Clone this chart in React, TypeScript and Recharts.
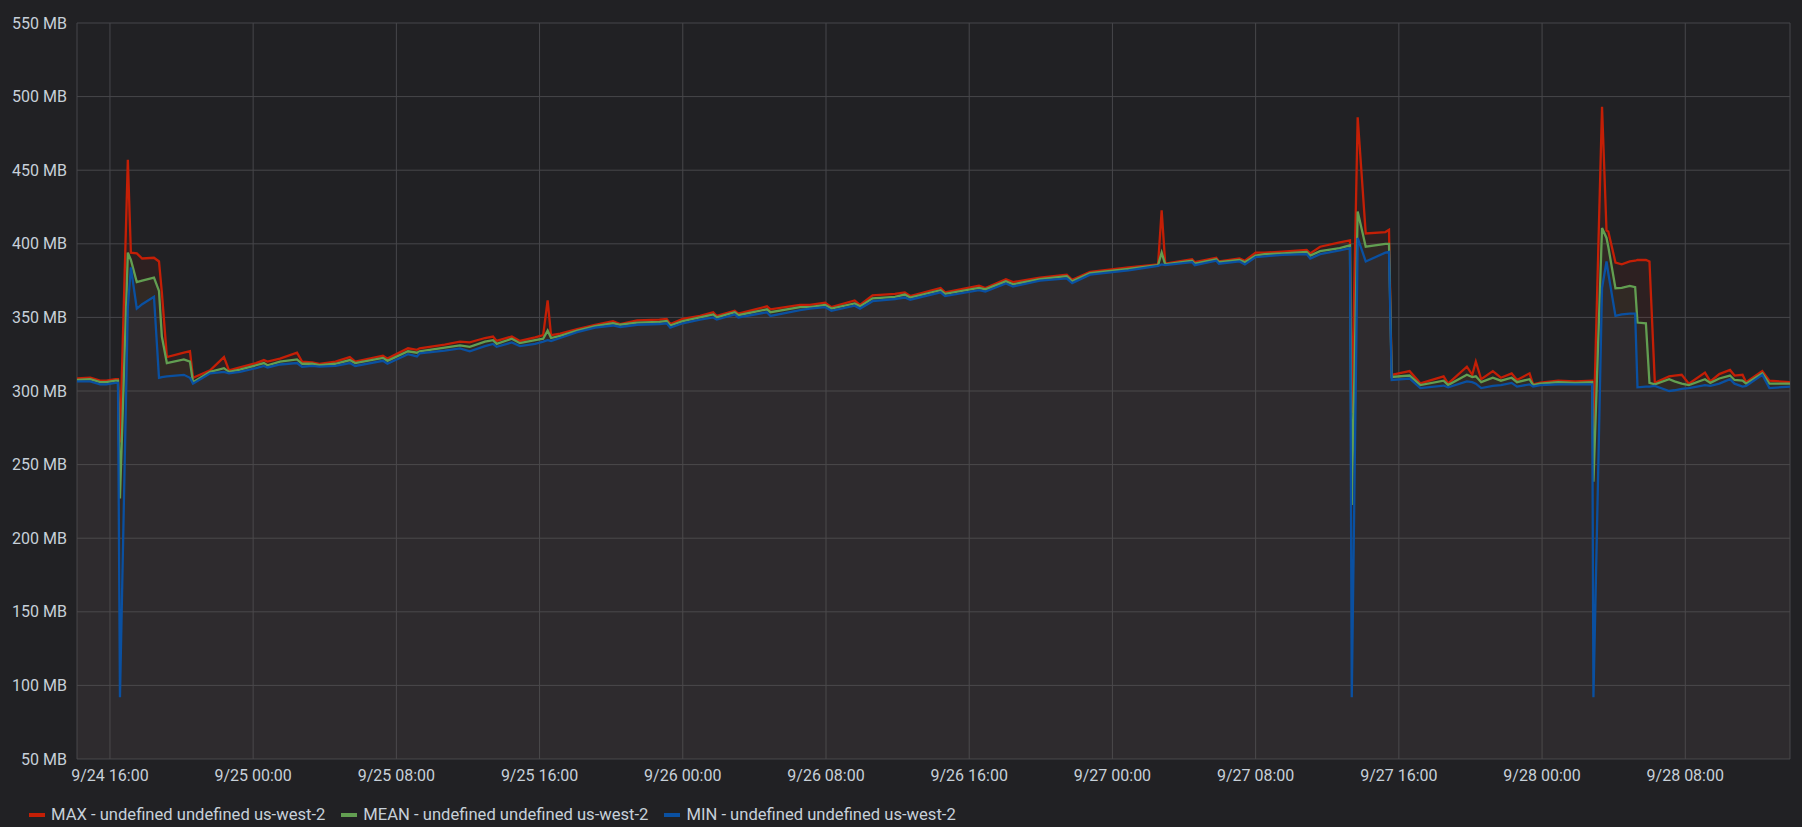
import React from 'react';
import { Area, CartesianGrid, ComposedChart, XAxis, YAxis } from 'recharts';

// Hours since 9/24 00:00 for each sample
const hours = [
  14.16, 14.9, 15.45, 15.8, 16.3, 16.45, 16.56, 17.0, 17.17, 17.5, 17.8, 18.46, 18.74, 18.9, 19.18,
  20.13, 20.47, 20.64, 21.6, 22.37, 22.65, 23.26, 24.16, 24.6, 24.8, 25.5, 26.45, 26.73, 27.3, 27.7,
  28.6, 29.4, 29.7, 31.25, 31.5, 32.65, 33.15, 33.3, 34.7, 35.55, 36.1, 36.95, 37.4, 37.6, 38.45,
  38.9, 39.75, 40.2, 40.45, 40.64, 41.15, 42.1, 43.1, 44.1, 44.5, 45.45, 46.7, 47.1, 47.3, 48.0,
  48.96, 49.7, 49.9, 50.9, 51.1, 52.7, 52.9, 54.55, 55.1, 55.95, 56.3, 57.6, 57.9, 58.6, 59.85,
  60.4, 60.7, 62.4, 62.65, 64.55, 64.9, 66.05, 66.45, 67.95, 69.45, 69.75, 70.75, 72.9, 74.55, 74.75,
  74.95, 76.45, 76.6, 77.8, 77.95, 79.1, 79.4, 80.0, 80.5, 81.5, 82.85, 83.05, 83.6, 84.7, 85.27,
  85.37, 85.7, 86.15, 87.25, 87.45, 87.6, 88.6, 89.2, 90.5, 90.75, 91.8, 92.1, 92.3, 92.6, 93.25,
  93.7, 94.3, 94.6, 95.3, 95.5, 95.9, 96.9, 97.85, 98.8, 98.87, 99.35, 99.6, 99.7, 100.1, 100.45,
  100.9, 101.2, 101.33, 101.8, 102.0, 102.3, 103.1, 103.4, 103.8, 104.2, 105.1, 105.4, 105.9, 106.5,
  106.75, 107.2, 107.4, 108.3, 108.7, 109.85,
];

const maxMb = [
  308.5, 309, 307, 307, 308, 308, 265, 457, 394, 393.5, 390, 390.5, 388, 367, 323,
  326, 327, 309, 314, 323, 314, 316, 319, 321, 320, 322, 326, 320, 319.5, 318.5,
  320, 323, 320, 324, 322, 329, 328, 329, 331.5, 333.5, 333, 336, 337, 334, 337,
  334, 336.5, 338, 361.5, 338, 339, 342, 345, 347.5, 345.5, 348, 348.5, 349, 345.5, 349,
  351, 353.5, 351, 354.5, 352.5, 357.5, 355.5, 358.5, 358.5, 360, 357, 361.5, 358.5, 365, 366,
  367, 364.5, 370, 367, 371.5, 370, 376, 374, 377, 379, 375.5, 381, 384, 386, 422.7,
  386.5, 389.5, 387.5, 390.5, 388, 390, 388.5, 394, 394, 394.7, 395.8, 393.5, 398, 401, 402.3,
  285, 486, 407, 408, 409.5, 311, 313.5, 305.2, 310, 305, 316.5, 311, 320, 308, 313.5,
  309, 312, 307.5, 312, 304.5, 305.6, 307, 306.5, 307, 271.4, 493, 409, 408.4, 387.3, 386,
  388, 388.5, 389, 389, 388, 305.5, 310, 310.5, 311, 305, 312.5, 306.5, 311.5, 314.3,
  310.5, 311, 306, 313.6, 307, 306,
];

const meanMb = [
  307.5, 308, 306, 306, 307, 307, 227, 394, 389, 374, 375, 377, 368, 337, 319,
  321.5, 320, 306, 313, 315.5, 313, 314.5, 317.5, 319, 317.5, 320, 321.5, 318.5, 318.5, 317.5,
  318.5, 321, 319, 322.5, 320.5, 327, 326, 327, 329.5, 331, 330, 333.5, 334.5, 332, 335.5,
  332.5, 334.5, 335.5, 341, 336, 337.5, 341, 344, 346, 345, 346.5, 347, 347.5, 344.5, 347.5,
  350, 352, 350, 353.5, 351.5, 355.5, 353.5, 357, 357, 358.5, 356, 359.5, 357.5, 363, 364,
  365.5, 363.5, 368.5, 366, 370, 369, 374.5, 372.5, 376, 378, 374.5, 380, 383, 385.5, 394,
  386, 388.5, 386.5, 389.5, 387.5, 389, 387.5, 392, 393, 393.5, 394.5, 392, 395, 397, 399,
  222.5, 422, 398, 400, 400, 309.5, 310.5, 304, 307, 304, 311, 309.5, 310, 306, 309,
  307, 309, 306, 308, 304, 305, 306, 305.5, 306, 238.3, 410.7, 404, 398, 369.8, 370,
  371.4, 370.5, 346.5, 346, 305.5, 304.5, 308, 306.5, 305, 304, 308, 305.5, 308.5, 310.5,
  307.5, 307, 305, 312, 305, 305,
];

const minMb = [
  306.5, 306.5, 304.5, 304.5, 305.5, 305.5, 92, 357, 384, 356, 359, 364, 309, 309.5, 310,
  311, 309, 305, 312, 313, 312, 313, 315.5, 317, 316, 318, 319, 316.5, 317, 316.5,
  317, 319, 317, 320.5, 318.5, 325, 323.5, 325.5, 327.5, 329, 327, 330.5, 332, 330, 333,
  330.5, 332, 333.5, 334.5, 334, 336, 340, 343, 344.5, 343.5, 345, 345.5, 346, 343, 346,
  348.5, 350, 348.5, 352, 350, 353.5, 351, 355, 356, 357, 354.5, 358, 356, 361, 362.5,
  363.5, 362, 367, 364.5, 368.5, 367.5, 373, 371, 375, 376.5, 373.3, 379, 382, 385, 386,
  385.5, 387.5, 385.5, 388.5, 386.5, 388, 386, 391, 391.5, 392.5, 393, 390, 393, 395.5, 397,
  92, 404, 388, 394, 394.5, 307.5, 308.5, 302, 303.7, 302.5, 306.5, 306, 305, 302, 303.5,
  304, 305.5, 303, 304.5, 303, 304, 304.5, 304.5, 304.5, 92, 370, 388, 380, 351, 352,
  352.5, 352.5, 302.5, 303, 303, 303.5, 300, 300.5, 301.5, 302, 304, 303.5, 305, 308,
  305, 303, 303.5, 311, 302, 303,
];

const tickHours = [16, 24, 32, 40, 48, 56, 64, 72, 80, 88, 96, 104];
const tickLabels = [
  '9/24 16:00', '9/25 00:00', '9/25 08:00', '9/25 16:00', '9/26 00:00', '9/26 08:00',
  '9/26 16:00', '9/27 00:00', '9/27 08:00', '9/27 16:00', '9/28 00:00', '9/28 08:00',
];
const yTicks = [50, 100, 150, 200, 250, 300, 350, 400, 450, 500, 550];

const seriesNames = [
  'MAX - undefined undefined us-west-2',
  'MEAN - undefined undefined us-west-2',
  'MIN - undefined undefined us-west-2',
];

const COLORS = ['#C41F06', '#629E51', '#0A50A1'];
const TEXT = '#c7d0d9';
const BG = '#212124';

const rows = hours.map((t, i) => ({ t, max: maxMb[i], mean: meanMb[i], min: minMb[i] }));

export default function App(): React.JSX.Element {
  const keys = ['max', 'mean', 'min'];
  return (
    <div
      style={{
        position: 'fixed',
        left: 0,
        top: 0,
        width: 1802,
        height: 827,
        background: BG,
        fontFamily: 'Roboto, sans-serif',
      }}
    >
      <ComposedChart
        width={1802}
        height={827}
        data={rows}
        margin={{ top: 23, right: 12, bottom: 0, left: 0 }}
      >
        <CartesianGrid stroke="#47474b" strokeWidth={1} />
        <XAxis
          dataKey="t"
          type="number"
          domain={[14.16, 109.85]}
          ticks={tickHours}
          interval={0}
          allowDataOverflow
          height={68}
          tickLine={false}
          axisLine={false}
          tickSize={0}
          tickMargin={11}
          tick={{ fontSize: 16, fill: TEXT, fontFamily: 'Roboto' }}
          tickFormatter={(v) => tickLabels[tickHours.indexOf(Number(v))] ?? ''}
        />
        <YAxis
          domain={[50, 550]}
          ticks={yTicks}
          interval={0}
          width={77}
          tickLine={false}
          axisLine={false}
          tickSize={0}
          tickMargin={10}
          tick={{ fontSize: 16, fill: TEXT, fontFamily: 'Roboto' }}
          tickFormatter={(v) => `${v} MB`}
        />
        {keys.map((k, i) => (
          <Area
            key={k}
            type="linear"
            dataKey={k}
            name={seriesNames[i]}
            stroke={COLORS[i]}
            strokeWidth={2.3}
            fill={COLORS[i]}
            fillOpacity={0.08}
            dot={false}
            activeDot={false}
            isAnimationActive={false}
          />
        ))}
      </ComposedChart>
      <div
        style={{
          position: 'absolute',
          left: 29,
          top: 805,
          display: 'flex',
          alignItems: 'center',
          fontSize: 16.6,
          color: TEXT,
          whiteSpace: 'nowrap',
        }}
      >
        {seriesNames.map((name, i) => (
          <div key={name} style={{ display: 'flex', alignItems: 'center', marginRight: 16 }}>
            <span
              style={{
                display: 'inline-block',
                width: 16,
                height: 4,
                background: COLORS[i],
                marginRight: 6,
              }}
            />
            <span>{name}</span>
          </div>
        ))}
      </div>
    </div>
  );
}
